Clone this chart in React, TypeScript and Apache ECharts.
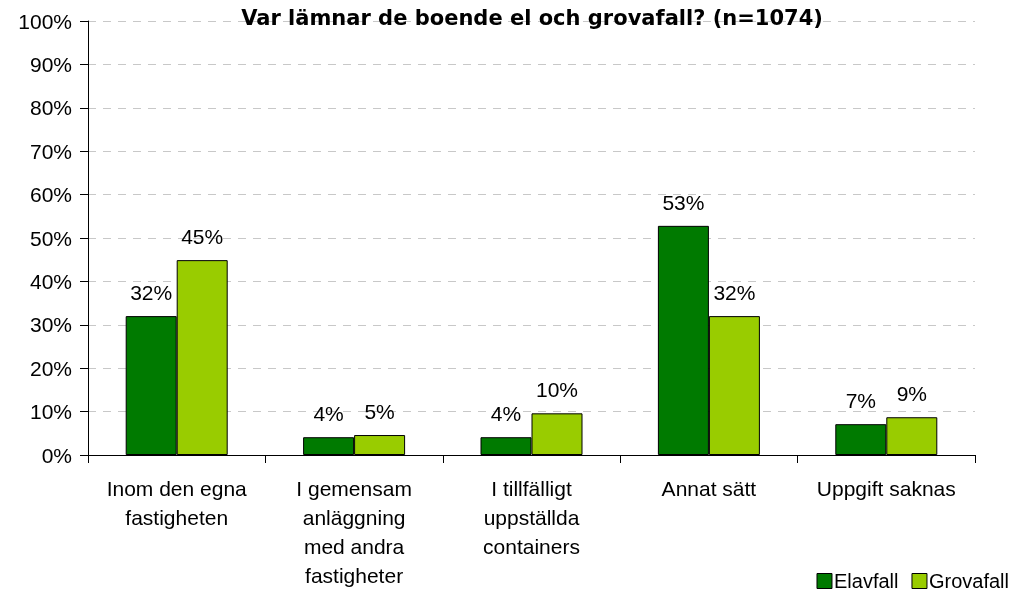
import React, { useEffect, useRef } from "react";
import * as echarts from "echarts";

const categories = [
  "Inom den egna\nfastigheten",
  "I gemensam\nanläggning\nmed andra\nfastigheter",
  "I tillfälligt\nuppställda\ncontainers",
  "Annat sätt",
  "Uppgift saknas",
];
const elavfall = [32.0, 4.1, 4.1, 52.8, 7.1];
const grovafall = [44.9, 4.6, 9.6, 32.0, 8.7];
const seriesNames = ["Elavfall", "Grovafall"];
const title = "Var lämnar de boende el och grovafall? (n=1074)";

export default function App() {
  const ref = useRef<HTMLDivElement>(null);
  useEffect(() => {
    if (!ref.current) return;
    const chart = echarts.init(ref.current, null, { renderer: "svg" });
    const font = "Liberation Sans, Arial, sans-serif";
    const label = {
      show: true,
      position: "top" as const,
      distance: 13,
      color: "#000",
      fontSize: 21,
      fontFamily: font,
      formatter: (p: any) => Math.round(p.value) + "%",
    };
    chart.setOption({
      animation: false,
      textStyle: { fontFamily: font },
      title: {
        text: title,
        left: 527,
        textAlign: "center",
        top: 2,
        textStyle: { fontSize: 21, fontWeight: "bold", color: "#000", fontFamily: "DejaVu Sans, sans-serif" },
      },
      legend: {
        data: seriesNames,
        right: 3,
        top: 567,
        padding: 4,
        itemWidth: 15,
        itemHeight: 15,
        itemGap: 13,
        icon: "rect",
        textStyle: { fontSize: 20, lineHeight: 20, color: "#000", fontFamily: font, padding: [0, 0, 0, -3] },
        itemStyle: { borderColor: "#000", borderWidth: 1 },
      },
      grid: { left: 88, right: 41, top: 21, bottom: 140 },
      xAxis: {
        type: "category",
        data: categories,
        axisLine: { lineStyle: { color: "#000", width: 1 } },
        axisTick: { show: true, length: 8, lineStyle: { color: "#000" } },
        axisLabel: {
          color: "#000",
          fontSize: 21,
          fontFamily: font,
          margin: 19,
          lineHeight: 29,
          interval: 0,
        },
      },
      yAxis: {
        type: "value",
        min: 0,
        max: 100,
        interval: 10,
        axisLine: { show: true, lineStyle: { color: "#000", width: 1 } },
        axisTick: { show: true, length: 8, lineStyle: { color: "#000" } },
        axisLabel: {
          color: "#000",
          fontSize: 21,
          fontFamily: font,
          margin: 16,
          formatter: "{value}%",
        },
        splitLine: { show: true, lineStyle: { color: "#c8c8c8", type: [8, 7], width: 1 } },
      },
      series: [
        {
          name: seriesNames[0],
          type: "bar",
          data: elavfall,
          barWidth: 51,
          barGap: "0%",
          itemStyle: { color: "#007A00", borderColor: "#000", borderWidth: 1 },
          label,
        },
        {
          name: seriesNames[1],
          type: "bar",
          data: grovafall,
          barWidth: 51,
          barGap: "0%",
          itemStyle: { color: "#99CC00", borderColor: "#000", borderWidth: 1 },
          label,
        },
      ],
    });
    return () => chart.dispose();
  }, []);
  return <div ref={ref} style={{ position: "fixed", left: 0, top: 0, width: 1016, height: 595 }} />;
}
